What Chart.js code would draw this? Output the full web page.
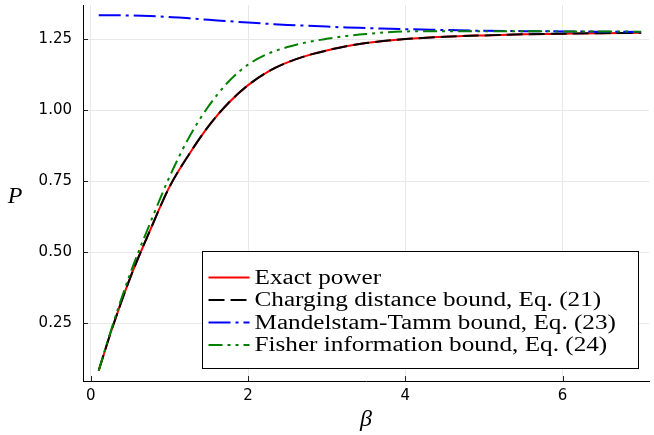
<!DOCTYPE html>
<html>
<head>
<meta charset="utf-8">
<script src="https://cdn.jsdelivr.net/npm/chart.js@4/dist/chart.umd.min.js"></script>
<style>
  body { margin: 0; background: #fff; }
  canvas { display: block; }
</style>
</head>
<body>
<canvas id="powerChart" width="654" height="435"></canvas>
<script>
// values
const beta = [0.1, 0.25, 0.5, 0.75, 1, 1.25, 1.5, 1.75, 2, 2.25, 2.5, 2.75, 3, 3.25, 3.5, 4, 4.5, 5, 5.5, 6, 6.5, 7];
const exactPower = [0.084, 0.215, 0.41, 0.575, 0.73, 0.845, 0.945, 1.025, 1.088, 1.135, 1.168, 1.192, 1.21, 1.225, 1.236, 1.25, 1.258, 1.263, 1.267, 1.269, 1.271, 1.272];
const chargingBound = [0.084, 0.215, 0.41, 0.575, 0.73, 0.845, 0.945, 1.025, 1.088, 1.135, 1.168, 1.192, 1.21, 1.225, 1.236, 1.25, 1.258, 1.263, 1.267, 1.269, 1.271, 1.272];
const mtBound = [1.334, 1.334, 1.333, 1.331, 1.328, 1.323, 1.318, 1.313, 1.308, 1.304, 1.300, 1.297, 1.294, 1.291, 1.289, 1.285, 1.282, 1.279, 1.278, 1.277, 1.276, 1.275];
const fisherBound = [0.084, 0.22, 0.425, 0.60, 0.765, 0.905, 1.015, 1.1, 1.16, 1.198, 1.222, 1.239, 1.251, 1.261, 1.268, 1.277, 1.278, 1.278, 1.278, 1.277, 1.277, 1.276];

const xTicks = [0, 2, 4, 6];
const yTicks = [0.25, 0.5, 0.75, 1.0, 1.25];
const seriesLabels = [
    "Exact power",
    "Charging distance bound, Eq. (21)",
    "Mandelstam-Tamm bound, Eq. (23)",
    "Fisher information bound, Eq. (24)"
];

function toPoints(ys) {
    return beta.map((b, i) => ({ x: b, y: ys[i] }));
}

const lineBase = { pointRadius: 0, borderWidth: 2, fill: false, cubicInterpolationMode: 'monotone' };

// inward tick marks, axis labels and the boxed legend inside the plot
const decorations = {
    id: 'decorations',
    afterDraw(chart) {
        const ctx = chart.ctx;
        const area = chart.chartArea;
        const xs = chart.scales.x, ys = chart.scales.y;

        ctx.save();
        ctx.strokeStyle = '#222';
        ctx.lineWidth = 1;
        xTicks.forEach(v => {
            const px = Math.round(xs.getPixelForValue(v)) + 0.5;
            ctx.beginPath(); ctx.moveTo(px, area.bottom); ctx.lineTo(px, area.bottom - 5); ctx.stroke();
        });
        yTicks.forEach(v => {
            const py = Math.round(ys.getPixelForValue(v)) + 0.5;
            ctx.beginPath(); ctx.moveTo(area.left, py); ctx.lineTo(area.left + 5, py); ctx.stroke();
        });

        // axis titles
        ctx.fillStyle = '#000';
        ctx.font = 'italic 24px "Liberation Serif"';
        ctx.textAlign = 'center';
        ctx.textBaseline = 'middle';
        ctx.fillText('P', 15, (area.top + area.bottom) / 2 + 4);
        ctx.fillText('β', (area.left + area.right) / 2, 420);

        // legend
        const boxW = 436, boxH = 117;
        const bx = area.right - 11 - boxW + 0.5;
        const by = area.bottom - 13 - boxH + 0.5;
        ctx.fillStyle = '#fff';
        ctx.fillRect(bx, by, boxW, boxH);
        ctx.strokeStyle = '#000';
        ctx.lineWidth = 1;
        ctx.strokeRect(bx, by, boxW, boxH);

        ctx.textAlign = 'left';
        ctx.font = '20px "Liberation Serif"';
        chart.data.datasets.forEach((ds, i) => {
            const cy = by + 26 + i * 22.5;
            ctx.save();
            ctx.strokeStyle = ds.borderColor;
            ctx.lineWidth = 2;
            ctx.setLineDash(ds.borderDash || []);
            ctx.beginPath(); ctx.moveTo(bx + 6, cy); ctx.lineTo(bx + 47, cy); ctx.stroke();
            ctx.restore();
            ctx.save();
            ctx.translate(bx + 52, cy + 1);
            ctx.scale(1.26, 1);
            ctx.fillStyle = '#000';
            ctx.fillText(ds.label, 0, 0);
            ctx.restore();
        });
        ctx.restore();
    }
};

new Chart(document.getElementById('powerChart'), {
    type: 'line',
    data: {
        datasets: [
            { ...lineBase, label: seriesLabels[0], data: toPoints(exactPower), borderColor: '#ff0000', order: 3 },
            { ...lineBase, label: seriesLabels[1], data: toPoints(chargingBound), borderColor: '#000000', borderDash: [16, 6], order: 2 },
            { ...lineBase, label: seriesLabels[2], data: toPoints(mtBound), borderColor: '#0000ff', borderDash: [22, 5, 3, 5], order: 1 },
            { ...lineBase, label: seriesLabels[3], data: toPoints(fisherBound), borderColor: '#008000', borderDash: [14, 5, 3, 5, 3, 5], order: 0 }
        ]
    },
    options: {
        responsive: false,
        maintainAspectRatio: false,
        devicePixelRatio: 1,
        animation: false,
        layout: { padding: { top: 5, right: 5, left: 0, bottom: 0 } },
        plugins: { legend: { display: false }, tooltip: { enabled: false } },
        scales: {
            x: {
                type: 'linear',
                min: -0.1,
                max: 7.1,
                afterBuildTicks: s => { s.ticks = xTicks.map(v => ({ value: v })); },
                afterFit: s => { s.height = 54; s.paddingLeft = 0; s.paddingRight = 0; },
                ticks: { color: '#000', font: { family: 'DejaVu Sans', size: 15 }, padding: 6 },
                grid: { color: '#e8e8e8', drawTicks: false },
                border: { color: '#000', width: 1 }
            },
            y: {
                type: 'linear',
                min: 0.047,
                max: 1.37,
                afterBuildTicks: s => { s.ticks = yTicks.map(v => ({ value: v })); },
                afterFit: s => { s.width = 83; s.paddingTop = 0; s.paddingBottom = 0; },
                ticks: {
                    color: '#000',
                    font: { family: 'DejaVu Sans', size: 15 },
                    padding: 11,
                    callback: v => Number(v).toFixed(2)
                },
                grid: { color: '#e8e8e8', drawTicks: false },
                border: { color: '#000', width: 1 }
            }
        }
    },
    plugins: [decorations]
});
</script>
</body>
</html>
